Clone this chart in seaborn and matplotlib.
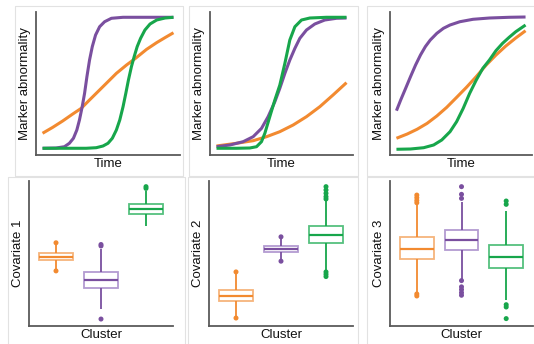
import numpy as np
import pandas as pd
import matplotlib
matplotlib.use("Agg")
import matplotlib.pyplot as plt
from matplotlib.lines import Line2D
import seaborn as sns

sns.set_style("white")
plt.rcParams['font.family'] = ['Liberation Sans', 'DejaVu Sans']

# ---------------- colours ----------------
ORANGE, PURPLE, GREEN = "#f28a30", "#7a4f9f", "#17a64b"
ORANGE_L, PURPLE_L, GREEN_L = "#f6b47c", "#b39bd1", "#55c07e"

# ---------------- top row: marker trajectories (time 0-1, abnormality 0-1) ----------------
# panel 1
p1_purple_t = [0, .103, .167, .205, .236, .262, .282, .303, .321, .339, .359, .380, .405, .436, .474, .526, .615, 1]
p1_purple_v = [.047, .049, .058, .082, .117, .175, .245, .338, .431, .548, .664, .758, .839, .897, .932, .956, .963, .963]
p1_green_t = [0, .333, .410, .462, .500, .533, .564, .590, .615, .636, .656, .679, .700, .723, .749, .782, .821, .872, .936, 1]
p1_green_v = [.047, .047, .051, .063, .082, .117, .175, .245, .338, .431, .524, .618, .688, .758, .816, .874, .916, .944, .958, .963]
p1_orange_t = [0, .077, .154, .231, .295, .359, .423, .487, .564, .641, .710, .795, .872, .936, 1]
p1_orange_v = [.152, .193, .238, .287, .326, .385, .443, .501, .571, .629, .676, .739, .786, .821, .855]

# panel 2
p2_purple_t = [0, .103, .205, .282, .346, .397, .449, .487, .526, .564, .603, .641, .692, .756, .833, .923, 1]
p2_purple_v = [.058, .070, .093, .128, .186, .268, .373, .466, .571, .664, .746, .816, .874, .916, .944, .956, .958]
p2_green_t = [0, .154, .256, .308, .346, .372, .410, .449, .487, .526, .564, .603, .654, .718, .846, 1]
p2_green_v = [.047, .047, .049, .058, .093, .152, .268, .385, .489, .641, .804, .897, .944, .958, .963, .963]
p2_orange_t = [0, .154, .282, .385, .487, .590, .692, .795, .897, 1]
p2_orange_v = [.063, .082, .100, .128, .163, .210, .268, .338, .420, .506]

# panel 3
p3_purple_t = [0, .033, .071, .109, .148, .186, .224, .262, .313, .364, .415, .491, .593, .720, .873, 1]
p3_purple_v = [.310, .385, .466, .548, .629, .699, .758, .804, .851, .886, .909, .932, .949, .958, .963, .965]
p3_green_t = [0, .109, .211, .288, .351, .415, .466, .517, .567, .618, .669, .720, .771, .822, .873, .924, 1]
p3_green_v = [.040, .042, .051, .070, .105, .163, .233, .326, .431, .524, .606, .664, .730, .781, .823, .862, .909]
p3_orange_t = [0, .084, .160, .237, .313, .389, .466, .542, .618, .695, .771, .847, .924, 1]
p3_orange_v = [.117, .147, .180, .221, .273, .333, .403, .473, .548, .629, .699, .762, .818, .869]

# ---------------- bottom row: covariate box plots (value 0-1) ----------------
clusters = ["Cluster A", "Cluster B", "Cluster C"]
# per cluster: whisker low, Q1, median, Q3, whisker high
cov1_low = [.380, .120, .689]
cov1_q1 = [.454, .260, .772]
cov1_med = [.479, .316, .806]
cov1_q3 = [.505, .371, .841]
cov1_high = [.574, .530, .931]
cov1_out_cluster = ["Cluster A", "Cluster A", "Cluster B", "Cluster B", "Cluster B",
                    "Cluster C", "Cluster C"]
cov1_out_value = [.574, .380, .552, .562, .048, .961, .949]

cov2_low = [.055, .447, .385]
cov2_q1 = [.173, .512, .571]
cov2_med = [.210, .532, .631]
cov2_q3 = [.249, .551, .689]
cov2_high = [.373, .615, .862]
cov2_out_cluster = ["Cluster A", "Cluster A", "Cluster B", "Cluster B",
                    "Cluster C", "Cluster C", "Cluster C", "Cluster C", "Cluster C",
                    "Cluster C", "Cluster C", "Cluster C"]
cov2_out_value = [.373, .055, .615, .447,
                  .961, .938, .915, .892, .876,
                  .373, .357, .341]

cov3_low = [.230, .323, .177]
cov3_q1 = [.459, .523, .399]
cov3_med = [.532, .594, .479]
cov3_q3 = [.613, .661, .558]
cov3_high = [.834, .857, .793]
cov3_out_cluster = ["Cluster A"] * 6 + ["Cluster B"] * 8 + ["Cluster C"] * 5
cov3_out_value = [.903, .885, .866, .850, .221, .207,
                  .961, .908, .880, .313, .270, .251, .230, .212,
                  .862, .839, .147, .131, .051]

# ---------------- figure ----------------
W, H = 534, 344
fig = plt.figure(figsize=(W / 100, H / 100), dpi=100)


def add_ax(l, r, t, b):
    return fig.add_axes([l / W, 1 - b / H, (r - l) / W, (b - t) / H])


# faint panel frames
FRAME = "#e2e2e2"
for (l, t, r, b) in [(15, 6, 183, 176), (189, 6, 358, 176), (367, 6, 540, 176),
                     (8, 177, 185, 350), (188, 177, 358, 350), (367, 177, 540, 350)]:
    xs = [l / W, l / W, r / W, r / W, l / W]
    ys = [1 - b / H, 1 - t / H, 1 - t / H, 1 - b / H, 1 - b / H]
    fig.add_artist(Line2D(xs, ys, color=FRAME, lw=0.8, transform=fig.transFigure))


def style(ax, xlabel, ylabel, xpad, ypad):
    sns.despine(ax=ax)
    for s in ("left", "bottom"):
        ax.spines[s].set_color("#5a5a5a")
        ax.spines[s].set_linewidth(1.3)
    ax.set_xticks([])
    ax.set_yticks([])
    ax.set_xlabel(xlabel, fontsize=9.5, labelpad=xpad, color="#111111")
    ax.set_ylabel(ylabel, fontsize=9.5, labelpad=ypad, color="#111111")
    ax.set_facecolor("none")


top_axes = [add_ax(36, 180, 12, 155), add_ax(210, 353, 12, 155), add_ax(390, 532, 12, 155)]
top_data = [
    [(p1_orange_t, p1_orange_v, ORANGE), (p1_purple_t, p1_purple_v, PURPLE), (p1_green_t, p1_green_v, GREEN)],
    [(p2_orange_t, p2_orange_v, ORANGE), (p2_purple_t, p2_purple_v, PURPLE), (p2_green_t, p2_green_v, GREEN)],
    [(p3_orange_t, p3_orange_v, ORANGE), (p3_purple_t, p3_purple_v, PURPLE), (p3_green_t, p3_green_v, GREEN)],
]
for ax, curves in zip(top_axes, top_data):
    for t, v, c in curves:
        sns.lineplot(x=t, y=v, color=c, lw=2.2, ax=ax, estimator=None, solid_capstyle="butt")
    ax.set_xlim(-0.05, 1.05)
    ax.set_ylim(0, 1)
    style(ax, "Time", "Marker abnormality", 2.5, 3.5)

bot_axes = [add_ax(29, 173, 181, 326), add_ax(209, 353, 181, 326), add_ax(390, 533, 181, 326)]
bot_data = [
    (cov1_low, cov1_q1, cov1_med, cov1_q3, cov1_high, cov1_out_cluster, cov1_out_value, "Covariate 1"),
    (cov2_low, cov2_q1, cov2_med, cov2_q3, cov2_high, cov2_out_cluster, cov2_out_value, "Covariate 2"),
    (cov3_low, cov3_q1, cov3_med, cov3_q3, cov3_high, cov3_out_cluster, cov3_out_value, "Covariate 3"),
]
main_cols = [ORANGE, PURPLE, GREEN]
light_cols = [ORANGE_L, PURPLE_L, GREEN_L]
for ax, (lo, q1, med, q3, hi, oc, ov, lab) in zip(bot_axes, bot_data):
    for i, cl in enumerate(clusters):
        df = pd.DataFrame({"cluster": cl, "value": [lo[i], q1[i], med[i], q3[i], hi[i]]})
        sns.boxplot(data=df, x="cluster", y="value", order=clusters, whis=(0, 100),
                    width=0.75, color=main_cols[i], linecolor=main_cols[i], linewidth=1.3,
                    showcaps=False, ax=ax,
                    boxprops=dict(facecolor="white", edgecolor=light_cols[i], linewidth=1.3),
                    medianprops=dict(color=main_cols[i], linewidth=1.6),
                    whiskerprops=dict(color=main_cols[i], linewidth=1.3),
                    capprops=dict(linewidth=0))
    odf = pd.DataFrame({"cluster": oc, "value": ov})
    sns.stripplot(data=odf, x="cluster", y="value", order=clusters, hue="cluster",
                  hue_order=clusters, palette=main_cols, jitter=False, size=3.6,
                  linewidth=0, legend=False, ax=ax, zorder=5)
    ax.set_xlim(-0.6, 2.6)
    ax.set_ylim(0, 1)
    style(ax, "Cluster", lab, 2, 3.5)

fig.savefig("out.png", dpi=100)
